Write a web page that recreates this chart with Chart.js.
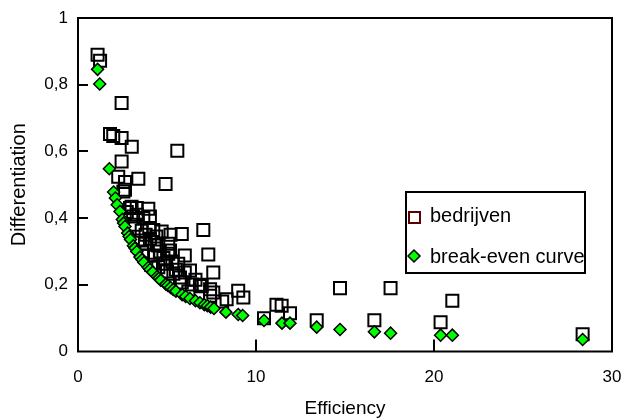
<!DOCTYPE html>
<html>
<head>
<meta charset="utf-8">
<script src="https://cdn.jsdelivr.net/npm/chart.js@4.4.0/dist/chart.umd.min.js"></script>
<style>
html,body{margin:0;padding:0;background:#fff}
</style>
</head>
<body>
<canvas id="c" width="624" height="420"></canvas>
<script>
const xTicks = [0, 10, 20, 30]
const yTicks = [0, 0.2, 0.4, 0.6, 0.8, 1]

// bedrijven (efficiency, differentiation)
const firmsX = [1.1,1.24,2.45,1.8,1.98,2.45,3.02,5.58,2.45,2.26,3.39,2.64,4.92,2.55,2.64,3.01,2.74,3.3,3.95,3.1,
  3.67,4.04,3.3,4.7,5.83,7.04,4.23,3.58,4.04,3.48,3.76,4.51,5.07,5.17,4.33,3.95,5.07,6.0,7.32,4.89,
  5.63,4.51,5.36,6.0,6.29,7.6,5.73,5.83,6.39,6.85,7.42,7.6,7.42,9.0,9.29,8.35,6.95,10.45,11.44,11.91,
  13.41,14.72,16.65,17.56,20.37,21.03,28.35,4.3,4.8,5.3,4.6,3.8,4.4,5.5,6.6,5.2,4.0,3.2,2.92,6.2,
  8.1,5.0,4.1,3.6,11.15]
const firmsY = [0.89,0.872,0.745,0.652,0.646,0.64,0.614,0.602,0.57,0.524,0.518,0.508,0.502,0.48,0.485,0.434,0.418,0.43,0.428,0.405,
  0.4,0.405,0.41,0.36,0.352,0.364,0.364,0.362,0.338,0.333,0.323,0.318,0.323,0.303,0.288,0.288,0.293,0.288,0.291,0.263,
  0.263,0.253,0.233,0.237,0.243,0.237,0.222,0.207,0.201,0.2,0.187,0.177,0.167,0.182,0.162,0.157,0.196,0.1,0.137,0.115,
  0.094,0.19,0.094,0.19,0.088,0.152,0.052,0.32,0.28,0.27,0.3,0.35,0.345,0.245,0.215,0.35,0.37,0.38,0.43,0.18,
  0.15,0.24,0.26,0.3,0.14]

// break-even curve
const curveX = [1.1,1.22,1.76,2.0,2.1,2.2,2.36,2.49,2.56,2.64,2.79,2.87,2.95,3.11,3.2,3.3,3.48,3.6,3.7,3.95,
  4.05,4.2,4.45,4.55,4.65,4.94,5.05,5.2,5.35,5.5,5.85,6.05,6.29,6.6,6.85,7.1,7.27,7.45,7.64,8.31,
  9.0,9.25,10.45,11.46,11.91,13.41,14.72,16.65,17.56,20.37,21.03,28.35]
const curveY = [0.846,0.802,0.548,0.478,0.46,0.44,0.42,0.396,0.385,0.375,0.355,0.345,0.336,0.317,0.31,0.3,0.283,0.275,0.267,0.252,
  0.246,0.238,0.225,0.22,0.214,0.202,0.198,0.192,0.186,0.181,0.17,0.165,0.159,0.152,0.146,0.14,0.137,0.133,0.129,0.118,
  0.111,0.108,0.093,0.085,0.085,0.073,0.066,0.059,0.055,0.049,0.049,0.036]

const pts = (xs, ys) => xs.map((x, i) => ({x: x, y: ys[i]}))
const font = 'Liberation Sans, Arial, sans-serif'

const frame = {
  id: 'frame',
  afterDatasetsDraw(chart) {
    const {ctx, chartArea: a, scales} = chart
    ctx.save()
    ctx.strokeStyle = '#000'
    ctx.lineWidth = 2
    ctx.strokeRect(a.left, a.top, a.right - a.left, a.bottom - a.top)
    ctx.beginPath()
    xTicks.slice(1, -1).forEach(v => {
      const px = Math.round(scales.x.getPixelForValue(v))
      ctx.moveTo(px, a.bottom); ctx.lineTo(px, a.bottom - 12)
    })
    yTicks.slice(1, -1).forEach(v => {
      const py = Math.round(scales.y.getPixelForValue(v))
      ctx.moveTo(a.left, py); ctx.lineTo(a.left + 10, py)
    })
    ctx.stroke()

    // legend box inside the plot
    const bx = 406, by = 192, bw = 179, bh = 81
    ctx.fillStyle = '#fff'
    ctx.fillRect(bx, by, bw, bh)
    ctx.strokeRect(bx, by, bw, bh)
    ctx.font = '20px ' + font
    ctx.textBaseline = 'middle'
    ctx.fillStyle = '#000'
    const ds = chart.data.datasets
    // square
    ctx.strokeStyle = '#5a0000'
    ctx.lineWidth = 2
    ctx.strokeRect(409, 212, 11, 11)
    ctx.fillText(ds[1].label, 430, 216)
    // diamond
    ctx.beginPath()
    ctx.moveTo(414, 250); ctx.lineTo(420, 256); ctx.lineTo(414, 262); ctx.lineTo(408, 256); ctx.closePath()
    ctx.fillStyle = '#00ff00'
    ctx.fill()
    ctx.strokeStyle = '#000'
    ctx.lineWidth = 1.5
    ctx.stroke()
    ctx.fillStyle = '#000'
    ctx.fillText(ds[0].label, 430, 257)
    ctx.restore()
  }
}

new Chart(document.getElementById('c'), {
  type: 'scatter',
  data: {
    datasets: [{
      label: 'break-even curve',
      data: pts(curveX, curveY),
      pointStyle: 'rectRot',
      pointRadius: 6,
      backgroundColor: '#00ff00',
      borderColor: '#000',
      borderWidth: 1.5,
      order: 1
    }, {
      label: 'bedrijven',
      data: pts(firmsX, firmsY),
      pointStyle: 'rect',
      pointRadius: 8.5,
      backgroundColor: 'rgba(0,0,0,0)',
      borderColor: '#000',
      borderWidth: 2,
      order: 2
    }]
  },
  options: {
    responsive: false,
    animation: false,
    layout: {padding: {top: 18, right: 12, left: 0, bottom: 0}},
    plugins: {legend: {display: false}, tooltip: {enabled: false}},
    scales: {
      x: {
        type: 'linear', min: 0, max: 30,
        afterBuildTicks: s => { s.ticks = xTicks.map(v => ({value: v})) },
        afterFit: s => { s.height = 68.5; s.paddingLeft = 0; s.paddingRight = 0 },
        grid: {display: false, drawTicks: false},
        border: {display: false},
        ticks: {color: '#000', font: {family: font, size: 17}, padding: 16, maxRotation: 0},
        title: {display: true, text: 'Efficiency', color: '#000', font: {family: font, size: 19}, padding: 0}
      },
      y: {
        min: 0, max: 1,
        afterBuildTicks: s => { s.ticks = yTicks.map(v => ({value: v})) },
        afterFit: s => { s.width = 78; s.paddingTop = 0; s.paddingBottom = 0 },
        grid: {display: false, drawTicks: false},
        border: {display: false},
        ticks: {color: '#000', font: {family: font, size: 17}, padding: 10,
          callback: v => String(Math.round(v * 10) / 10).replace('.', ',')},
        title: {display: true, text: 'Differentiation', color: '#000', font: {family: font, size: 20}, padding: {top: 7}}
      }
    }
  },
  plugins: [frame]
})
</script>
</body>
</html>
